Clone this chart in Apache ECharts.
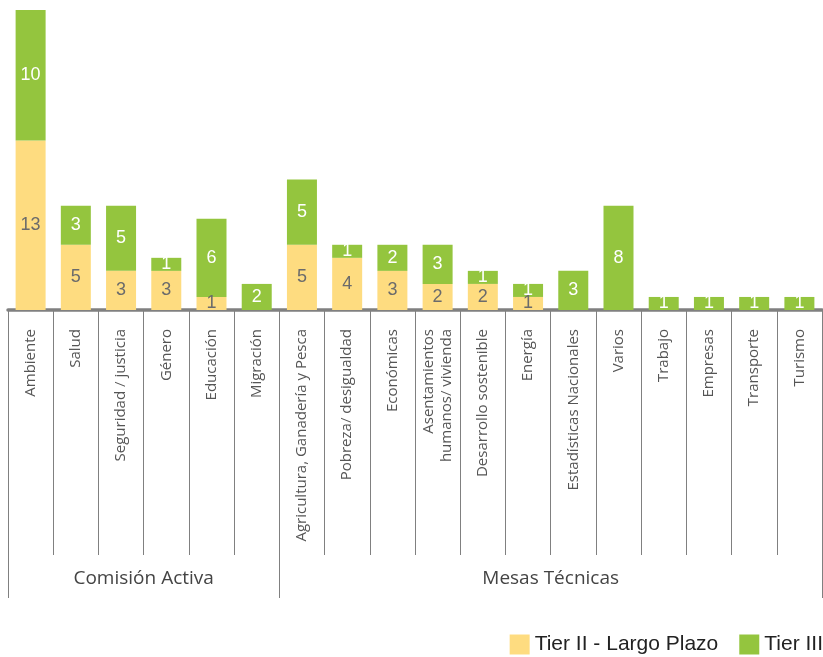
<!DOCTYPE html>
<html>
<head>
<meta charset="utf-8">
<script src="https://cdn.jsdelivr.net/npm/echarts@6/dist/echarts.min.js"></script>
<style>html,body{margin:0;padding:0;background:#fff}#chart{width:823px;height:657px}</style>
</head>
<body>
<div id="chart"></div>
<script>
const categories = ["Ambiente","Salud","Seguridad / justicia","Género","Educación","Migración","Agricultura, Ganadería y Pesca","Pobreza/ desigualdad","Económicas","Asentamientos\nhumanos/ vivienda","Desarrollo sostenible","Energía","Estadísticas Nacionales","Varios","Trabajo","Empresas","Transporte","Turismo"];
const tierII = [13,5,3,3,1,0,5,4,3,2,2,1,0,0,0,0,0,0];
const tierIII = [10,3,5,1,6,2,5,1,2,3,1,1,3,8,1,1,1,1];
const groupNames = ["Comisión Activa","Mesas Técnicas"];
const groupBounds = [0,6,18];
const groupCenters = [3,12];

const chart = echarts.init(document.getElementById('chart'));
chart.setOption({
  animation:false,
  grid:{left:8,right:1,top:10,bottom:347,containLabel:false},
  legend:{
    right:0, top:634, padding:0, itemWidth:20, itemHeight:20, itemGap:21, icon:'rect',
    textStyle:{fontFamily:'Liberation Sans',fontSize:21,color:'#222'},
    data:['Tier II - Largo Plazo','Tier III']
  },
  xAxis:[{
    type:'category', data:categories, position:'bottom',
    axisLine:{show:true,lineStyle:{color:'#808080',width:3.5}},
    axisTick:{show:true,interval:0,length:245,lineStyle:{color:'#808080',width:1}},
    axisLabel:{rotate:90,margin:19,interval:0,fontFamily:'Open Sans',fontSize:15,color:'#555',lineHeight:18}
  },{
    type:'value', min:0, max:18, position:'bottom',
    axisLine:{show:false}, splitLine:{show:false},
    axisTick:{show:true,customValues:groupBounds,length:288,lineStyle:{color:'#808080',width:1}},
    axisLabel:{show:true,customValues:groupCenters,margin:259,fontFamily:'Open Sans',fontSize:19,color:'#444',
      formatter:function(v){return groupNames[groupCenters.indexOf(v)];}}
  }],
  yAxis:{type:'value',min:0,max:23,show:false},
  series:[{
    name:'Tier II - Largo Plazo', type:'bar', stack:'t', xAxisIndex:0, data:tierII, barWidth:30,
    itemStyle:{color:'#FEDC80'},
    label:{show:true,position:'inside',color:'#6b6b6b',fontFamily:'Liberation Sans',fontSize:18,
      formatter:function(p){return p.value?String(p.value):'';}}
  },{
    name:'Tier III', type:'bar', stack:'t', xAxisIndex:0, data:tierIII, barWidth:30,
    itemStyle:{color:'#94C53E'},
    label:{show:true,position:'inside',color:'#fff',fontFamily:'Liberation Sans',fontSize:18,
      formatter:function(p){return p.value?String(p.value):'';}}
  }]
});
</script>
</body>
</html>
